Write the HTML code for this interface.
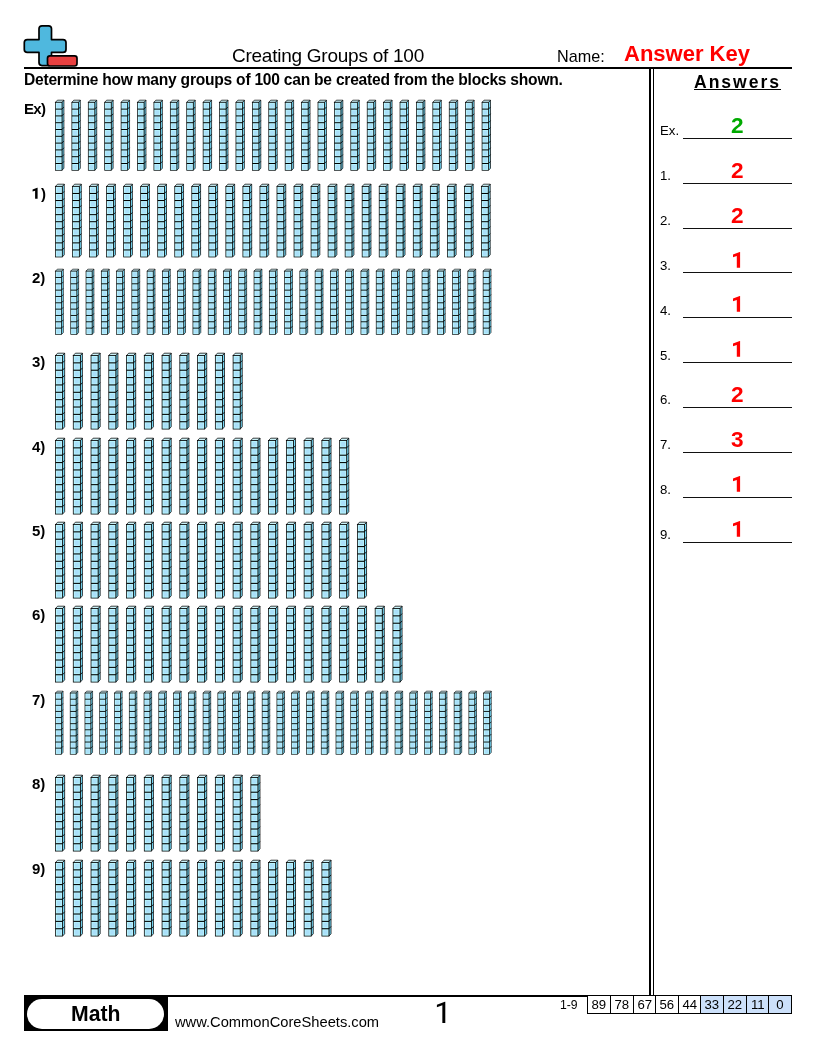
<!DOCTYPE html>
<html><head><meta charset="utf-8">
<style>
html,body{margin:0;padding:0;background:#fff;}
body{width:816px;height:1056px;position:relative;overflow:hidden;font-family:"Liberation Sans",sans-serif;color:#000;}
.abs{position:absolute;white-space:nowrap;}
.t{will-change:transform;}
.rods{position:absolute;overflow:visible;}
.aline{position:absolute;left:682.8px;width:109.1px;height:1.1px;background:#111;}
</style></head><body>
<svg class="abs" style="left:0;top:0" width="816" height="1056">
<symbol id="rod" overflow="visible"><polygon points="7.55,2.5 9.65,0.20000000000000018 9.65,73.8 7.55,76.1" fill="#76dbf9" stroke="#000" stroke-width="0.75" stroke-linejoin="round"/><polygon points="0.5,2.5 2.6,0.20000000000000018 9.65,0.20000000000000018 7.55,2.5" fill="#cdf4fa" stroke="#000" stroke-width="0.75" stroke-linejoin="round"/><rect x="0.5" y="2.5" width="7.05" height="73.6" fill="#b6f4fd" stroke="#000" stroke-width="0.75"/><rect x="2.00" y="4.00" width="4.05" height="4.36" fill="#aadff9"/><rect x="2.00" y="11.36" width="4.05" height="4.36" fill="#aadff9"/><rect x="2.00" y="18.72" width="4.05" height="4.36" fill="#aadff9"/><rect x="2.00" y="26.08" width="4.05" height="4.36" fill="#aadff9"/><rect x="2.00" y="33.44" width="4.05" height="4.36" fill="#aadff9"/><rect x="2.00" y="40.80" width="4.05" height="4.36" fill="#aadff9"/><rect x="2.00" y="48.16" width="4.05" height="4.36" fill="#aadff9"/><rect x="2.00" y="55.52" width="4.05" height="4.36" fill="#aadff9"/><rect x="2.00" y="62.88" width="4.05" height="4.36" fill="#aadff9"/><rect x="2.00" y="70.24" width="4.05" height="4.36" fill="#aadff9"/><line x1="0.5" y1="9.86" x2="7.55" y2="9.86" stroke="#000" stroke-width="1.09"/><line x1="7.55" y1="9.86" x2="9.65" y2="7.56" stroke="#000" stroke-width="0.83"/><line x1="0.5" y1="17.22" x2="7.55" y2="17.22" stroke="#000" stroke-width="1.09"/><line x1="7.55" y1="17.22" x2="9.65" y2="14.92" stroke="#000" stroke-width="0.83"/><line x1="0.5" y1="24.58" x2="7.55" y2="24.58" stroke="#000" stroke-width="1.09"/><line x1="7.55" y1="24.58" x2="9.65" y2="22.28" stroke="#000" stroke-width="0.83"/><line x1="0.5" y1="31.94" x2="7.55" y2="31.94" stroke="#000" stroke-width="1.09"/><line x1="7.55" y1="31.94" x2="9.65" y2="29.64" stroke="#000" stroke-width="0.83"/><line x1="0.5" y1="39.30" x2="7.55" y2="39.30" stroke="#000" stroke-width="1.09"/><line x1="7.55" y1="39.30" x2="9.65" y2="37.00" stroke="#000" stroke-width="0.83"/><line x1="0.5" y1="46.66" x2="7.55" y2="46.66" stroke="#000" stroke-width="1.09"/><line x1="7.55" y1="46.66" x2="9.65" y2="44.36" stroke="#000" stroke-width="0.83"/><line x1="0.5" y1="54.02" x2="7.55" y2="54.02" stroke="#000" stroke-width="1.09"/><line x1="7.55" y1="54.02" x2="9.65" y2="51.72" stroke="#000" stroke-width="0.83"/><line x1="0.5" y1="61.38" x2="7.55" y2="61.38" stroke="#000" stroke-width="1.09"/><line x1="7.55" y1="61.38" x2="9.65" y2="59.08" stroke="#000" stroke-width="0.83"/><line x1="0.5" y1="68.74" x2="7.55" y2="68.74" stroke="#000" stroke-width="1.09"/><line x1="7.55" y1="68.74" x2="9.65" y2="66.44" stroke="#000" stroke-width="0.83"/></symbol>
</svg>
<svg class="abs" style="left:20px;top:20px" width="64" height="52" viewBox="0 0 64 52">
  <path d="M19 8.8 Q19 5.8 22 5.8 L28.5 5.8 Q31.5 5.8 31.5 8.8 L31.5 19.6 L43 19.6 Q46 19.6 46 22.6 L46 29.4 Q46 32.4 43 32.4 L31.5 32.4 L31.5 42.6 Q31.5 45.6 28.5 45.6 L22 45.6 Q19 45.6 19 42.6 L19 32.4 L7.3 32.4 Q4.3 32.4 4.3 29.4 L4.3 22.6 Q4.3 19.6 7.3 19.6 L19 19.6 Z" fill="#4fb8de" stroke="#000" stroke-width="1.7" stroke-linejoin="round"/>
  <rect x="27.5" y="35.8" width="29.5" height="10.2" rx="2.4" fill="#e84040" stroke="#000" stroke-width="1.7"/>
</svg>
<div class="abs" style="left:24px;top:67px;width:768px;height:2px;background:#000"></div>
<div class="abs t" style="left:231.75px;top:45.91px;font-size:19.00px;line-height:19.00px;letter-spacing:-0.25px;">Creating Groups of 100</div>
<div class="abs t" style="left:556.50px;top:47.88px;font-size:16.20px;line-height:16.20px;">Name:</div>
<div class="abs t" style="left:624.40px;top:43.17px;font-size:22.00px;line-height:22.00px;font-weight:bold;color:#ff0000;">Answer Key</div>
<div class="abs t" style="left:23.90px;top:72.39px;font-size:15.60px;line-height:15.60px;font-weight:bold;letter-spacing:-0.24px;">Determine how many groups of 100 can be created from the blocks shown.</div>
<div class="abs" style="left:649px;top:68px;width:2px;height:927px;background:#000"></div>
<div class="abs" style="left:652.5px;top:68px;width:1.6px;height:927px;background:#000"></div>
<div class="abs t" style="left:693.60px;top:73.70px;font-size:17.60px;line-height:17.60px;font-weight:bold;letter-spacing:1.95px;">Answers</div>
<div class="abs" style="left:693.5px;top:88.8px;width:87px;height:1.3px;background:#000"></div>
<div class="abs t" style="left:659.64px;top:124.22px;font-size:13.20px;line-height:13.20px;">Ex.</div><div class="aline" style="top:137.80px"></div><div class="abs t" style="left:683px;width:108.5px;text-align:center;top:114.86px;font-size:22.6px;line-height:22.6px;font-weight:bold;color:#00aa00">2</div><div class="abs t" style="left:659.64px;top:169.08px;font-size:13.20px;line-height:13.20px;">1.</div><div class="aline" style="top:182.66px"></div><div class="abs t" style="left:683px;width:108.5px;text-align:center;top:159.72px;font-size:22.6px;line-height:22.6px;font-weight:bold;color:#ff0000">2</div><div class="abs t" style="left:659.64px;top:213.94px;font-size:13.20px;line-height:13.20px;">2.</div><div class="aline" style="top:227.52px"></div><div class="abs t" style="left:683px;width:108.5px;text-align:center;top:204.58px;font-size:22.6px;line-height:22.6px;font-weight:bold;color:#ff0000">2</div><div class="abs t" style="left:659.64px;top:258.80px;font-size:13.20px;line-height:13.20px;">3.</div><div class="aline" style="top:272.38px"></div><svg class="abs" style="left:728px;top:249.58px" width="16" height="21" viewBox="728 249.58 16 21"><path d="M740.1 251.58 L740.1 267.38 L736.8 267.38 L736.8 255.58 L733 256.88 L733 254.18 L739.7 251.58 Z" fill="#ff0000"/></svg><div class="abs t" style="left:659.64px;top:303.66px;font-size:13.20px;line-height:13.20px;">4.</div><div class="aline" style="top:317.24px"></div><svg class="abs" style="left:728px;top:294.44px" width="16" height="21" viewBox="728 294.44 16 21"><path d="M740.1 296.44 L740.1 312.24 L736.8 312.24 L736.8 300.44 L733 301.74 L733 299.04 L739.7 296.44 Z" fill="#ff0000"/></svg><div class="abs t" style="left:659.64px;top:348.52px;font-size:13.20px;line-height:13.20px;">5.</div><div class="aline" style="top:362.10px"></div><svg class="abs" style="left:728px;top:339.30px" width="16" height="21" viewBox="728 339.30 16 21"><path d="M740.1 341.30 L740.1 357.10 L736.8 357.10 L736.8 345.30 L733 346.60 L733 343.90 L739.7 341.30 Z" fill="#ff0000"/></svg><div class="abs t" style="left:659.64px;top:393.38px;font-size:13.20px;line-height:13.20px;">6.</div><div class="aline" style="top:406.96px"></div><div class="abs t" style="left:683px;width:108.5px;text-align:center;top:384.02px;font-size:22.6px;line-height:22.6px;font-weight:bold;color:#ff0000">2</div><div class="abs t" style="left:659.64px;top:438.24px;font-size:13.20px;line-height:13.20px;">7.</div><div class="aline" style="top:451.82px"></div><div class="abs t" style="left:683px;width:108.5px;text-align:center;top:428.88px;font-size:22.6px;line-height:22.6px;font-weight:bold;color:#ff0000">3</div><div class="abs t" style="left:659.64px;top:483.10px;font-size:13.20px;line-height:13.20px;">8.</div><div class="aline" style="top:496.68px"></div><svg class="abs" style="left:728px;top:473.88px" width="16" height="21" viewBox="728 473.88 16 21"><path d="M740.1 475.88 L740.1 491.68 L736.8 491.68 L736.8 479.88 L733 481.18 L733 478.48 L739.7 475.88 Z" fill="#ff0000"/></svg><div class="abs t" style="left:659.64px;top:527.96px;font-size:13.20px;line-height:13.20px;">9.</div><div class="aline" style="top:541.54px"></div><svg class="abs" style="left:728px;top:518.74px" width="16" height="21" viewBox="728 518.74 16 21"><path d="M740.1 520.74 L740.1 536.54 L736.8 536.54 L736.8 524.74 L733 526.04 L733 523.34 L739.7 520.74 Z" fill="#ff0000"/></svg>
<svg class="rods" style="left:54.9px;top:99.70px;width:443.00px;height:70.77px" viewBox="0 0 479.52 76.6"><use href="#rod" x="0.00" y="0"/><use href="#rod" x="17.76" y="0"/><use href="#rod" x="35.52" y="0"/><use href="#rod" x="53.28" y="0"/><use href="#rod" x="71.04" y="0"/><use href="#rod" x="88.80" y="0"/><use href="#rod" x="106.56" y="0"/><use href="#rod" x="124.32" y="0"/><use href="#rod" x="142.08" y="0"/><use href="#rod" x="159.84" y="0"/><use href="#rod" x="177.60" y="0"/><use href="#rod" x="195.36" y="0"/><use href="#rod" x="213.12" y="0"/><use href="#rod" x="230.88" y="0"/><use href="#rod" x="248.64" y="0"/><use href="#rod" x="266.40" y="0"/><use href="#rod" x="284.16" y="0"/><use href="#rod" x="301.92" y="0"/><use href="#rod" x="319.68" y="0"/><use href="#rod" x="337.44" y="0"/><use href="#rod" x="355.20" y="0"/><use href="#rod" x="372.96" y="0"/><use href="#rod" x="390.72" y="0"/><use href="#rod" x="408.48" y="0"/><use href="#rod" x="426.24" y="0"/><use href="#rod" x="444.00" y="0"/><use href="#rod" x="461.76" y="0"/></svg><div class="abs t" style="left:23.65px;top:101.20px;font-size:15.00px;line-height:15.00px;font-weight:bold;letter-spacing:-0.70px;">Ex)</div><svg class="rods" style="left:54.9px;top:184.15px;width:443.00px;height:73.49px" viewBox="0 0 461.76 76.6"><use href="#rod" x="0.00" y="0"/><use href="#rod" x="17.76" y="0"/><use href="#rod" x="35.52" y="0"/><use href="#rod" x="53.28" y="0"/><use href="#rod" x="71.04" y="0"/><use href="#rod" x="88.80" y="0"/><use href="#rod" x="106.56" y="0"/><use href="#rod" x="124.32" y="0"/><use href="#rod" x="142.08" y="0"/><use href="#rod" x="159.84" y="0"/><use href="#rod" x="177.60" y="0"/><use href="#rod" x="195.36" y="0"/><use href="#rod" x="213.12" y="0"/><use href="#rod" x="230.88" y="0"/><use href="#rod" x="248.64" y="0"/><use href="#rod" x="266.40" y="0"/><use href="#rod" x="284.16" y="0"/><use href="#rod" x="301.92" y="0"/><use href="#rod" x="319.68" y="0"/><use href="#rod" x="337.44" y="0"/><use href="#rod" x="355.20" y="0"/><use href="#rod" x="372.96" y="0"/><use href="#rod" x="390.72" y="0"/><use href="#rod" x="408.48" y="0"/><use href="#rod" x="426.24" y="0"/><use href="#rod" x="444.00" y="0"/></svg><svg class="abs" style="left:30px;top:185.28px" width="10" height="15" viewBox="30 185.28 10 15"><path d="M37.6 188.08 L37.6 198.98 L35.1 198.98 L35.1 191.08 L32.6 191.88 L32.6 189.78 L37.2 188.08 Z" fill="#000"/></svg><div class="abs t" style="left:40.70px;top:185.58px;font-size:15.00px;line-height:15.00px;font-weight:bold;">)</div><svg class="rods" style="left:54.9px;top:268.60px;width:443.00px;height:65.89px" viewBox="0 0 515.04 76.6"><use href="#rod" x="0.00" y="0"/><use href="#rod" x="17.76" y="0"/><use href="#rod" x="35.52" y="0"/><use href="#rod" x="53.28" y="0"/><use href="#rod" x="71.04" y="0"/><use href="#rod" x="88.80" y="0"/><use href="#rod" x="106.56" y="0"/><use href="#rod" x="124.32" y="0"/><use href="#rod" x="142.08" y="0"/><use href="#rod" x="159.84" y="0"/><use href="#rod" x="177.60" y="0"/><use href="#rod" x="195.36" y="0"/><use href="#rod" x="213.12" y="0"/><use href="#rod" x="230.88" y="0"/><use href="#rod" x="248.64" y="0"/><use href="#rod" x="266.40" y="0"/><use href="#rod" x="284.16" y="0"/><use href="#rod" x="301.92" y="0"/><use href="#rod" x="319.68" y="0"/><use href="#rod" x="337.44" y="0"/><use href="#rod" x="355.20" y="0"/><use href="#rod" x="372.96" y="0"/><use href="#rod" x="390.72" y="0"/><use href="#rod" x="408.48" y="0"/><use href="#rod" x="426.24" y="0"/><use href="#rod" x="444.00" y="0"/><use href="#rod" x="461.76" y="0"/><use href="#rod" x="479.52" y="0"/><use href="#rod" x="497.28" y="0"/></svg><div class="abs t" style="left:32.30px;top:269.96px;font-size:15.00px;line-height:15.00px;font-weight:bold;">2)</div><svg class="rods" style="left:54.9px;top:353.05px;width:195.36px;height:76.60px" viewBox="0 0 195.36 76.6"><use href="#rod" x="0.00" y="0"/><use href="#rod" x="17.76" y="0"/><use href="#rod" x="35.52" y="0"/><use href="#rod" x="53.28" y="0"/><use href="#rod" x="71.04" y="0"/><use href="#rod" x="88.80" y="0"/><use href="#rod" x="106.56" y="0"/><use href="#rod" x="124.32" y="0"/><use href="#rod" x="142.08" y="0"/><use href="#rod" x="159.84" y="0"/><use href="#rod" x="177.60" y="0"/></svg><div class="abs t" style="left:32.30px;top:354.34px;font-size:15.00px;line-height:15.00px;font-weight:bold;">3)</div><svg class="rods" style="left:54.9px;top:437.50px;width:301.92px;height:76.60px" viewBox="0 0 301.92 76.6"><use href="#rod" x="0.00" y="0"/><use href="#rod" x="17.76" y="0"/><use href="#rod" x="35.52" y="0"/><use href="#rod" x="53.28" y="0"/><use href="#rod" x="71.04" y="0"/><use href="#rod" x="88.80" y="0"/><use href="#rod" x="106.56" y="0"/><use href="#rod" x="124.32" y="0"/><use href="#rod" x="142.08" y="0"/><use href="#rod" x="159.84" y="0"/><use href="#rod" x="177.60" y="0"/><use href="#rod" x="195.36" y="0"/><use href="#rod" x="213.12" y="0"/><use href="#rod" x="230.88" y="0"/><use href="#rod" x="248.64" y="0"/><use href="#rod" x="266.40" y="0"/><use href="#rod" x="284.16" y="0"/></svg><div class="abs t" style="left:32.30px;top:438.72px;font-size:15.00px;line-height:15.00px;font-weight:bold;">4)</div><svg class="rods" style="left:54.9px;top:521.95px;width:319.68px;height:76.60px" viewBox="0 0 319.68 76.6"><use href="#rod" x="0.00" y="0"/><use href="#rod" x="17.76" y="0"/><use href="#rod" x="35.52" y="0"/><use href="#rod" x="53.28" y="0"/><use href="#rod" x="71.04" y="0"/><use href="#rod" x="88.80" y="0"/><use href="#rod" x="106.56" y="0"/><use href="#rod" x="124.32" y="0"/><use href="#rod" x="142.08" y="0"/><use href="#rod" x="159.84" y="0"/><use href="#rod" x="177.60" y="0"/><use href="#rod" x="195.36" y="0"/><use href="#rod" x="213.12" y="0"/><use href="#rod" x="230.88" y="0"/><use href="#rod" x="248.64" y="0"/><use href="#rod" x="266.40" y="0"/><use href="#rod" x="284.16" y="0"/><use href="#rod" x="301.92" y="0"/></svg><div class="abs t" style="left:32.30px;top:523.10px;font-size:15.00px;line-height:15.00px;font-weight:bold;">5)</div><svg class="rods" style="left:54.9px;top:606.40px;width:355.20px;height:76.60px" viewBox="0 0 355.20 76.6"><use href="#rod" x="0.00" y="0"/><use href="#rod" x="17.76" y="0"/><use href="#rod" x="35.52" y="0"/><use href="#rod" x="53.28" y="0"/><use href="#rod" x="71.04" y="0"/><use href="#rod" x="88.80" y="0"/><use href="#rod" x="106.56" y="0"/><use href="#rod" x="124.32" y="0"/><use href="#rod" x="142.08" y="0"/><use href="#rod" x="159.84" y="0"/><use href="#rod" x="177.60" y="0"/><use href="#rod" x="195.36" y="0"/><use href="#rod" x="213.12" y="0"/><use href="#rod" x="230.88" y="0"/><use href="#rod" x="248.64" y="0"/><use href="#rod" x="266.40" y="0"/><use href="#rod" x="284.16" y="0"/><use href="#rod" x="301.92" y="0"/><use href="#rod" x="319.68" y="0"/><use href="#rod" x="337.44" y="0"/></svg><div class="abs t" style="left:32.30px;top:607.48px;font-size:15.00px;line-height:15.00px;font-weight:bold;">6)</div><svg class="rods" style="left:54.9px;top:690.85px;width:443.00px;height:63.69px" viewBox="0 0 532.80 76.6"><use href="#rod" x="0.00" y="0"/><use href="#rod" x="17.76" y="0"/><use href="#rod" x="35.52" y="0"/><use href="#rod" x="53.28" y="0"/><use href="#rod" x="71.04" y="0"/><use href="#rod" x="88.80" y="0"/><use href="#rod" x="106.56" y="0"/><use href="#rod" x="124.32" y="0"/><use href="#rod" x="142.08" y="0"/><use href="#rod" x="159.84" y="0"/><use href="#rod" x="177.60" y="0"/><use href="#rod" x="195.36" y="0"/><use href="#rod" x="213.12" y="0"/><use href="#rod" x="230.88" y="0"/><use href="#rod" x="248.64" y="0"/><use href="#rod" x="266.40" y="0"/><use href="#rod" x="284.16" y="0"/><use href="#rod" x="301.92" y="0"/><use href="#rod" x="319.68" y="0"/><use href="#rod" x="337.44" y="0"/><use href="#rod" x="355.20" y="0"/><use href="#rod" x="372.96" y="0"/><use href="#rod" x="390.72" y="0"/><use href="#rod" x="408.48" y="0"/><use href="#rod" x="426.24" y="0"/><use href="#rod" x="444.00" y="0"/><use href="#rod" x="461.76" y="0"/><use href="#rod" x="479.52" y="0"/><use href="#rod" x="497.28" y="0"/><use href="#rod" x="515.04" y="0"/></svg><div class="abs t" style="left:32.30px;top:691.86px;font-size:15.00px;line-height:15.00px;font-weight:bold;">7)</div><svg class="rods" style="left:54.9px;top:775.30px;width:213.12px;height:76.60px" viewBox="0 0 213.12 76.6"><use href="#rod" x="0.00" y="0"/><use href="#rod" x="17.76" y="0"/><use href="#rod" x="35.52" y="0"/><use href="#rod" x="53.28" y="0"/><use href="#rod" x="71.04" y="0"/><use href="#rod" x="88.80" y="0"/><use href="#rod" x="106.56" y="0"/><use href="#rod" x="124.32" y="0"/><use href="#rod" x="142.08" y="0"/><use href="#rod" x="159.84" y="0"/><use href="#rod" x="177.60" y="0"/><use href="#rod" x="195.36" y="0"/></svg><div class="abs t" style="left:32.30px;top:776.24px;font-size:15.00px;line-height:15.00px;font-weight:bold;">8)</div><svg class="rods" style="left:54.9px;top:859.75px;width:284.16px;height:76.60px" viewBox="0 0 284.16 76.6"><use href="#rod" x="0.00" y="0"/><use href="#rod" x="17.76" y="0"/><use href="#rod" x="35.52" y="0"/><use href="#rod" x="53.28" y="0"/><use href="#rod" x="71.04" y="0"/><use href="#rod" x="88.80" y="0"/><use href="#rod" x="106.56" y="0"/><use href="#rod" x="124.32" y="0"/><use href="#rod" x="142.08" y="0"/><use href="#rod" x="159.84" y="0"/><use href="#rod" x="177.60" y="0"/><use href="#rod" x="195.36" y="0"/><use href="#rod" x="213.12" y="0"/><use href="#rod" x="230.88" y="0"/><use href="#rod" x="248.64" y="0"/><use href="#rod" x="266.40" y="0"/></svg><div class="abs t" style="left:32.30px;top:860.62px;font-size:15.00px;line-height:15.00px;font-weight:bold;">9)</div>
<div class="abs" style="left:24px;top:995px;width:768px;height:1.5px;background:#000"></div>
<div class="abs" style="left:24px;top:995px;width:144px;height:36px;background:#000"></div>
<div class="abs" style="left:27px;top:999px;width:136.7px;height:30px;background:#fff;border-radius:15px/15px;"></div>
<div class="abs t" style="left:71.20px;top:1003.05px;font-size:21.20px;line-height:21.20px;font-weight:bold;">Math</div>
<div class="abs t" style="left:174.90px;top:1015.05px;font-size:14.70px;line-height:14.70px;">www.CommonCoreSheets.com</div>
<svg class="abs" style="left:430px;top:998px" width="20" height="28" viewBox="430 998 20 28"><path d="M445.3 1001.8 L445.3 1023 L442.35 1023 L442.35 1005.3 L436.9 1007.2 L436.9 1004.8 L444.8 1001.8 Z" fill="#000"/></svg>
<div class="abs t" style="left:560.30px;top:998.77px;font-size:12.20px;line-height:12.20px;">1-9</div>
<div class="abs" style="left:587.40px;top:995.3px;width:23.70px;height:18.4px;box-sizing:border-box;border:1.1px solid #000;background:#fff"></div><div class="abs t" style="left:587.40px;width:23.70px;text-align:center;top:998.22px;font-size:13.2px;line-height:13.2px">89</div><div class="abs" style="left:610.00px;top:995.3px;width:23.70px;height:18.4px;box-sizing:border-box;border:1.1px solid #000;background:#fff"></div><div class="abs t" style="left:610.00px;width:23.70px;text-align:center;top:998.22px;font-size:13.2px;line-height:13.2px">78</div><div class="abs" style="left:632.60px;top:995.3px;width:23.70px;height:18.4px;box-sizing:border-box;border:1.1px solid #000;background:#fff"></div><div class="abs t" style="left:632.60px;width:23.70px;text-align:center;top:998.22px;font-size:13.2px;line-height:13.2px">67</div><div class="abs" style="left:655.20px;top:995.3px;width:23.70px;height:18.4px;box-sizing:border-box;border:1.1px solid #000;background:#fff"></div><div class="abs t" style="left:655.20px;width:23.70px;text-align:center;top:998.22px;font-size:13.2px;line-height:13.2px">56</div><div class="abs" style="left:677.80px;top:995.3px;width:23.70px;height:18.4px;box-sizing:border-box;border:1.1px solid #000;background:#fff"></div><div class="abs t" style="left:677.80px;width:23.70px;text-align:center;top:998.22px;font-size:13.2px;line-height:13.2px">44</div><div class="abs" style="left:700.40px;top:995.3px;width:23.70px;height:18.4px;box-sizing:border-box;border:1.1px solid #000;background:#cce0fa"></div><div class="abs t" style="left:700.40px;width:23.70px;text-align:center;top:998.22px;font-size:13.2px;line-height:13.2px">33</div><div class="abs" style="left:723.00px;top:995.3px;width:23.70px;height:18.4px;box-sizing:border-box;border:1.1px solid #000;background:#cce0fa"></div><div class="abs t" style="left:723.00px;width:23.70px;text-align:center;top:998.22px;font-size:13.2px;line-height:13.2px">22</div><div class="abs" style="left:745.60px;top:995.3px;width:23.70px;height:18.4px;box-sizing:border-box;border:1.1px solid #000;background:#cce0fa"></div><div class="abs t" style="left:745.60px;width:23.70px;text-align:center;top:998.22px;font-size:13.2px;line-height:13.2px">11</div><div class="abs" style="left:768.20px;top:995.3px;width:23.70px;height:18.4px;box-sizing:border-box;border:1.1px solid #000;background:#cce0fa"></div><div class="abs t" style="left:768.20px;width:23.70px;text-align:center;top:998.22px;font-size:13.2px;line-height:13.2px">0</div>
</body></html>
